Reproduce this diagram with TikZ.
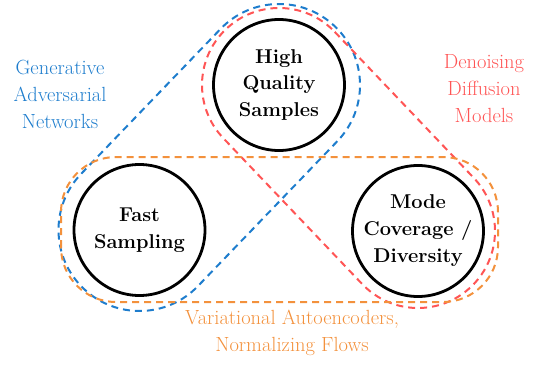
\documentclass[tikz,border=0pt]{standalone}
\usepackage{fontspec}
\usetikzlibrary{calc}
\definecolor{ganblue}{RGB}{30,125,205}
\definecolor{ddmred}{RGB}{255,85,85}
\definecolor{vaeorange}{RGB}{243,145,60}
\tikzset{
  bigcircle/.style={circle, draw=black, line width=2.8pt, minimum size=131pt, inner sep=0pt,
    align=center, font=\fontsize{20}{27}\selectfont\bfseries},
  hullline/.style={dash pattern=on 7pt off 5pt, line width=2pt},
  lab/.style={align=center, inner sep=0pt, font=\fontsize{20.5}{27}\selectfont}
}
\newcommand\hullpath[4]{%
  \draw[#1] let \p1=($(#3)-(#2)$), \n1={atan2(\y1,\x1)} in
    ($(#2)+(\n1+90:#4)$) -- ($(#3)+(\n1+90:#4)$)
    arc[start angle=\n1+90, end angle=\n1-90, radius=#4]
    -- ($(#2)+(\n1-90:#4)$)
    arc[start angle=\n1-90, end angle=\n1-270, radius=#4] -- cycle;}
\begin{document}
\begin{tikzpicture}[x=1pt,y=1pt]
\useasboundingbox (0,0) rectangle (544,365);
\node[bigcircle] (hq) at (279,280) {High\\Quality\\Samples};
\node[bigcircle] (fs) at (139.5,135) {Fast\\Sampling};
\node[bigcircle] (mc) at (418,134) {Mode\\Coverage /\\Diversity};
\hullpath{hullline, draw=ganblue}{hq.center}{fs.center}{81pt}
\hullpath{hullline, draw=ddmred}{hq.center}{mc.center}{77pt}
\draw[hullline, draw=vaeorange, rounded corners=55pt] (61,63) rectangle (498,208);
\node[lab, text=ganblue] (gan) at (60,271) {Generative\\Adversarial\\Networks};
\node[lab, text=ddmred] (ddm) at (484,276) {Denoising\\Diffusion\\Models};
\node[lab, text=vaeorange] (vae) at (292,32.5) {Variational Autoencoders,\\Normalizing Flows};
\end{tikzpicture}
\end{document}
